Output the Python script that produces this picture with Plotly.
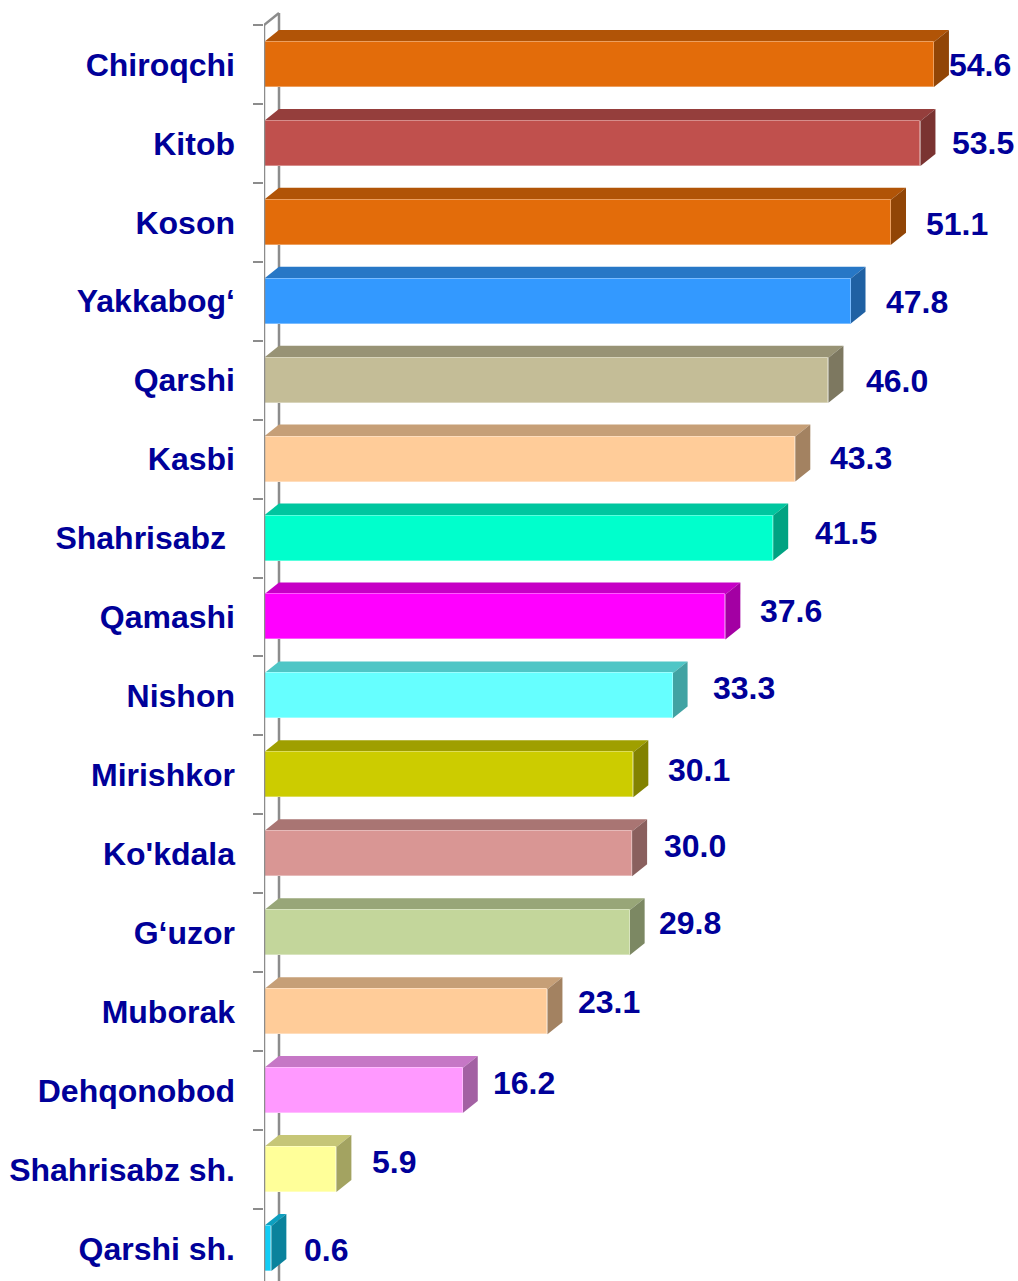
import plotly.graph_objects as go

# District values (top to bottom)
districts = [
    "Chiroqchi", "Kitob", "Koson", "Yakkabog‘", "Qarshi", "Kasbi",
    "Shahrisabz\u00a0", "Qamashi", "Nishon", "Mirishkor", "Ko'kdala",
    "G‘uzor", "Muborak", "Dehqonobod", "Shahrisabz sh.", "Qarshi sh.",
]
values = [54.6, 53.5, 51.1, 47.8, 46.0, 43.3, 41.5, 37.6, 33.3, 30.1,
          30.0, 29.8, 23.1, 16.2, 5.9, 0.6]
value_labels = ["54.6", "53.5", "51.1", "47.8", "46.0", "43.3", "41.5", "37.6",
                "33.3", "30.1", "30.0", "29.8", "23.1", "16.2", "5.9", "0.6"]

# Front-face colours of the bars
front_colors = [
    "#E36C0A", "#C0504D", "#E36C0A", "#3399FF", "#C4BD97", "#FFCC99",
    "#00FFCC", "#FF00FF", "#66FFFF", "#CCCC00", "#D99694", "#C3D69B",
    "#FFCC99", "#FF99FF", "#FFFF99", "#11CCF5",
]

# Label nudges in pixels (gap after the bar's side face, downward shift)
label_gap_px = [-2, 15, 18, 18, 21, 18, 25, 18, 23, 18, 15, 12, 14, 13, 19, 16]
label_down_px = [1, 0, 2, 1, 1, -1, -5, -6, -8, -5, -8, -10, -10, -8, -7, 2]

# ---- geometry of the pseudo-3D look ----
W, H = 1018, 1281
M_LEFT, M_TOP = 264, 10
PX_PER_X = 12.27          # pixels per value unit
PX_PER_ROW = 78.93        # pixels per category row
FIRST_BOUNDARY_PX = 25    # pixel row of the top category boundary
DEPTH_X_PX, DEPTH_Y_PX = 15, 12
BAR_W = 45 / PX_PER_ROW

x_max = (W - M_LEFT) / PX_PER_X
y_top = -0.5 - (FIRST_BOUNDARY_PX - M_TOP) / PX_PER_ROW
y_bottom = y_top + (H - M_TOP) / PX_PER_ROW
dxu = DEPTH_X_PX / PX_PER_X
dyu = DEPTH_Y_PX / PX_PER_ROW

TEXT_COLOR = "#000099"
WALL_COLOR = "#8C8C8C"
FONT = "Liberation Sans, Arial, sans-serif"
FONT_SIZE = 32


def shade(hex_color, k):
    r, g, b = (int(hex_color[i:i + 2], 16) for i in (1, 3, 5))
    return "#%02X%02X%02X" % (int(r * k), int(g * k), int(b * k))


def tint(hex_color, k):
    r, g, b = (int(hex_color[i:i + 2], 16) for i in (1, 3, 5))
    return "#%02X%02X%02X" % tuple(int(c + (255 - c) * k) for c in (r, g, b))


rows = list(range(len(districts)))

fig = go.Figure()
fig.add_trace(go.Bar(
    y=rows, x=values, orientation="h", width=BAR_W,
    marker=dict(color=front_colors,
                line=dict(color=[tint(c, 0.35) for c in front_colors], width=1)),
    hoverinfo="skip", showlegend=False,
))

shapes = []
# back wall line and its top edge
shapes.append(dict(type="line", xref="x", yref="y", layer="below",
                   x0=dxu, x1=dxu, y0=-0.5 - dyu, y1=y_bottom,
                   line=dict(color=WALL_COLOR, width=2.5)))
shapes.append(dict(type="line", xref="x", yref="y", layer="below",
                   x0=0, x1=dxu, y0=-0.5, y1=-0.5 - dyu,
                   line=dict(color=WALL_COLOR, width=2.5)))

# top and side faces of each bar
for i, (v, c) in enumerate(zip(values, front_colors)):
    y0 = i - BAR_W / 2
    y1 = i + BAR_W / 2
    top = (f"M 0 {y0} L {v} {y0} L {v + dxu} {y0 - dyu} "
           f"L {dxu} {y0 - dyu} Z")
    side = (f"M {v} {y0} L {v} {y1} L {v + dxu} {y1 - dyu} "
            f"L {v + dxu} {y0 - dyu} Z")
    shapes.append(dict(type="path", path=top, xref="x", yref="y", layer="below",
                       fillcolor=shade(c, 0.78), line=dict(width=0)))
    shapes.append(dict(type="path", path=side, xref="x", yref="y", layer="below",
                       fillcolor=shade(c, 0.64), line=dict(width=0)))

# front wall line
shapes.append(dict(type="line", xref="x", yref="y", layer="above",
                   x0=0, x1=0, y0=-0.5, y1=y_bottom,
                   line=dict(color=WALL_COLOR, width=2.5)))

annotations = []
for i, (v, t) in enumerate(zip(values, value_labels)):
    annotations.append(dict(
        x=v, y=i, xref="x", yref="y", text=t, showarrow=False,
        xanchor="left", yanchor="middle",
        xshift=DEPTH_X_PX + label_gap_px[i], yshift=-label_down_px[i],
        font=dict(family=FONT, size=FONT_SIZE, color=TEXT_COLOR, weight="bold"),
    ))

fig.update_layout(
    width=W, height=H,
    margin=dict(l=M_LEFT, r=0, t=M_TOP, b=0, autoexpand=False),
    paper_bgcolor="white", plot_bgcolor="white",
    shapes=shapes, annotations=annotations,
    bargap=0,
    xaxis=dict(range=[0, x_max], visible=False, fixedrange=True),
    yaxis=dict(
        range=[y_bottom, y_top], tickmode="array", tickvals=rows,
        ticktext=districts, ticks="", showline=False, showgrid=False,
        zeroline=False, ticklabelstandoff=28,
        tickfont=dict(family=FONT, size=FONT_SIZE, color=TEXT_COLOR, weight="bold"),
        minor=dict(tickmode="array", tickvals=[r - 0.5 for r in rows] + [len(rows) - 0.5],
                   ticks="outside", ticklen=10, tickwidth=2, tickcolor=WALL_COLOR,
                   showgrid=False),
        automargin=False, fixedrange=True,
    ),
)

fig.write_html("out.html")
